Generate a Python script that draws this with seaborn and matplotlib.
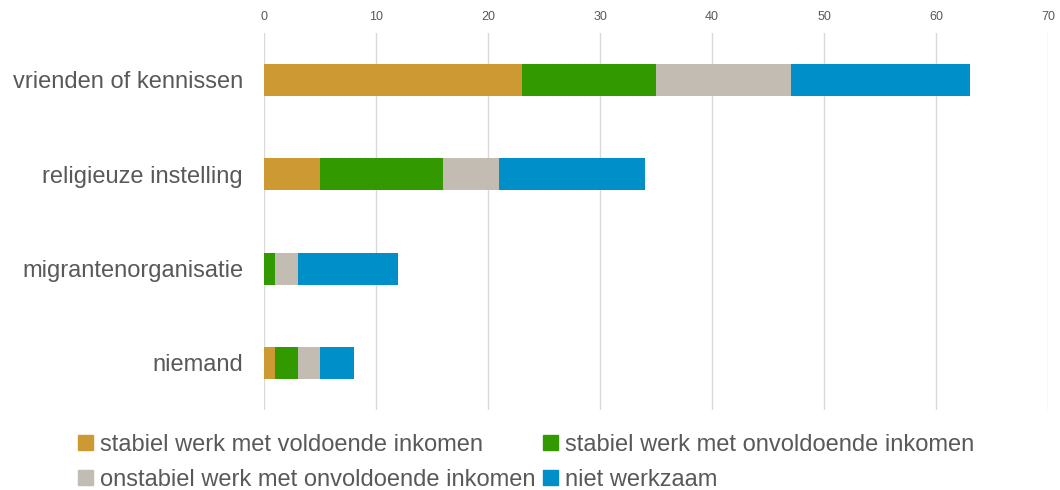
import numpy as np
import pandas as pd
import seaborn as sns
import matplotlib.pyplot as plt
from matplotlib.patches import Patch

categories = ["vrienden of kennissen", "religieuze instelling", "migrantenorganisatie", "niemand"]
series = ["stabiel werk met voldoende inkomen",
          "stabiel werk met onvoldoende inkomen",
          "onstabiel werk met onvoldoende inkomen",
          "niet werkzaam"]
stabiel_voldoende = [23, 5, 0, 1]
stabiel_onvoldoende = [12, 11, 1, 2]
onstabiel_onvoldoende = [12, 5, 2, 2]
niet_werkzaam = [16, 13, 9, 3]
colors = ["#CD9933", "#339900", "#C3BCB2", "#008FC8"]

df = pd.DataFrame({"categorie": categories,
                   series[0]: stabiel_voldoende,
                   series[1]: stabiel_onvoldoende,
                   series[2]: onstabiel_onvoldoende,
                   series[3]: niet_werkzaam})
cum = df[series].cumsum(axis=1)

sns.set_style("white")
plt.rcParams['font.family'] = ['Liberation Sans', 'DejaVu Sans']

fig = plt.figure(figsize=(10.6, 4.9), dpi=100)
ax = fig.add_axes([0.249, 0.163, 0.74, 0.77])

# stacked bars: draw cumulative totals from the outside in
for s, c in reversed(list(zip(series, colors))):
    sns.barplot(x=cum[s], y=df["categorie"], color=c, width=0.34,
                saturation=1, ax=ax, edgecolor="none", orient="h")

ax.set_xlim(0, 70)
ax.set_ylim(3.5, -0.5)
ax.set_xticks(range(0, 71, 10))
ax.xaxis.tick_top()
ax.tick_params(axis="x", length=0, labelsize=9, colors="#595959", pad=7)
ax.tick_params(axis="y", length=0, labelsize=17, colors="#595959", pad=15)
ax.set_xlabel("")
ax.set_ylabel("")
ax.grid(axis="x", color="#D9D9D9", linewidth=1)
ax.set_axisbelow(True)
for sp in ax.spines.values():
    sp.set_visible(False)

handles = [Patch(color=c, label=s) for s, c in zip(series, colors)]
order = [0, 2, 1, 3]
leg = fig.legend([handles[i] for i in order], [series[i] for i in order],
                 ncol=2, loc="lower left", bbox_to_anchor=(0.065, -0.021),
                 frameon=False, fontsize=17, handlelength=0.6, handleheight=0.6,
                 handletextpad=0.3, columnspacing=0.35, labelspacing=0.55,
                 borderaxespad=0)
for t in leg.get_texts():
    t.set_color("#595959")

fig.savefig("out.png", dpi=100)
